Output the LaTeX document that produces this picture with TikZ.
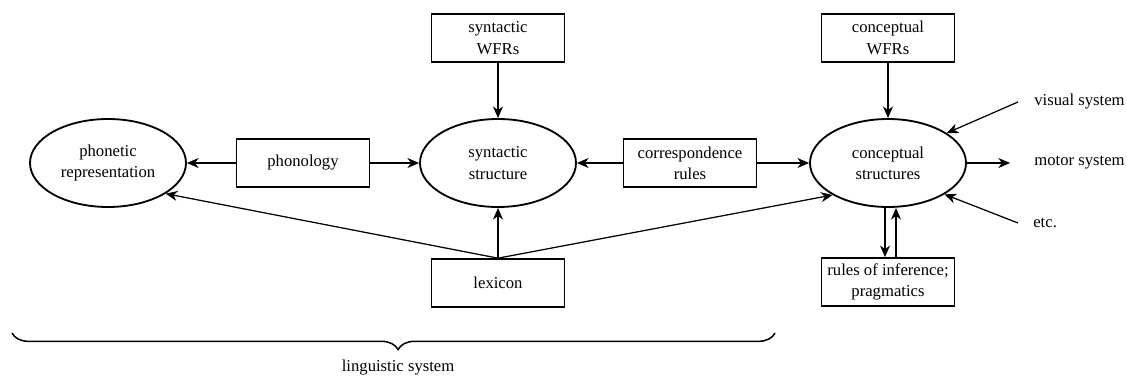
\documentclass[tikz,border=0pt]{standalone}
\usepackage{fontspec}
\setmainfont{Liberation Serif}
\usetikzlibrary{arrows.meta,shapes.geometric,decorations.pathreplacing}
\begin{document}
\begin{tikzpicture}[x=0.6pt,y=-0.6pt,
  every node/.style={font=\fontsize{10}{12.8}\selectfont},
  structbox/.style={ellipse,draw,line width=1.1pt,minimum width=93.6pt,minimum height=52.8pt,inner sep=0pt,align=center},
  rulebox/.style={rectangle,draw,line width=1pt,minimum width=79.8pt,minimum height=28.8pt,inner sep=2pt,align=center},
  sysnote/.style={anchor=west,inner ysep=0pt},
  flow/.style={line width=0.75pt,-{Stealth[length=7pt,width=6pt,inset=2.2pt]}},
  link/.style={line width=0.75pt}]
\useasboundingbox (0,0) rectangle (1127,376);

% the three levels of structure
\node[structbox] (ph)   at (108,163) {phonetic\\representation};
\node[structbox] (syn)  at (498,163) {syntactic\\structure};
\node[structbox] (conc) at (888,163) {conceptual\\structures};

% rule components
\node[rulebox] (phon)  at (303,163) {phonology};
\node[rulebox] (swfr)  at (498,38)  {syntactic\\WFRs};
\node[rulebox] (corr)  at (690,163) {correspondence\\rules};
\node[rulebox] (cwfr)  at (888,38)  {conceptual\\WFRs};
\node[rulebox] (lex)   at (498,283) {lexicon};
\node[rulebox] (rules) at (888,282) {rules of inference;\\pragmatics};

% other cognitive systems
\node[sysnote,inner xsep=9.6pt] (vis) at (1018,102) {visual system};
\node[sysnote,inner xsep=14.4pt] (mot) at (1010,163) {motor system};
\node[sysnote,inner xsep=9pt] (etc) at (1018,223) {etc.};

% interfaces
\draw[flow] (phon.west) -- (ph.east);
\draw[flow] (phon.east) -- (syn.west);
\draw[flow] (corr.west) -- (syn.east);
\draw[flow] (corr.east) -- (conc.west);
\draw[flow] (swfr.south) -- (syn.north);
\draw[flow] (cwfr.south) -- (conc.north);

% lexical items feed all three levels
\draw[flow] (lex.north) -- (syn.south);
\draw[flow] (lex.north) -- (ph.-28.5);
\draw[flow] (lex.north) -- (conc.-150.6);

% inference loop
\draw[flow] ([xshift=-1.8pt]conc.south) -- ([xshift=-1.8pt]rules.north);
\draw[flow] ([xshift=4.8pt]rules.north) -- ([xshift=4.8pt]conc.south);

% links to the other systems
\draw[flow] (vis.west) -- (conc.27);
\draw[flow] (conc.east) -- (mot.west);
\draw[flow] (etc.west) -- (conc.-29);

% extent of the linguistic system
\draw[line width=0.9pt,decorate,decoration={brace,mirror,amplitude=10pt,aspect=0.506}]
  (12,333) -- (775,333) node[pos=0.506,below=16pt,inner sep=0pt] (ling) {linguistic system};
\end{tikzpicture}
\end{document}
